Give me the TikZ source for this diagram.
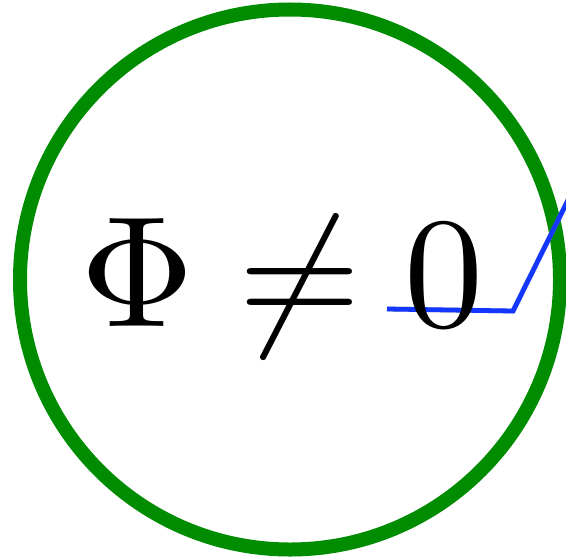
\documentclass[tikz,border=0pt]{standalone}
\usepackage{amsmath}
\usepackage{xcolor}
\usepackage{tikz}
\definecolor{ringgreen}{RGB}{0,140,0}
\definecolor{lineblue}{RGB}{20,55,255}

\begin{document}
\begin{tikzpicture}[x=0.5pt, y=-0.5pt]
    \clip (0,0) rectangle (566,556);
    \draw[ringgreen, line width=7pt] (290,279.5) circle (270);
    \coordinate (start) at (387,309);
    \coordinate (bend) at (513,311);
    \coordinate (out) at (572,192);
    \draw[black!40, opacity=0.45, line width=2.6pt, shift={(2,4)}] (start) -- (bend) -- (out);
    \draw[lineblue, line width=2.4pt] (start) -- (bend) -- (out);
    \node[inner sep=0pt, anchor=base, scale=7.9] (phi) at (282,326) {$\Phi \neq 0$};
\end{tikzpicture}
\end{document}
